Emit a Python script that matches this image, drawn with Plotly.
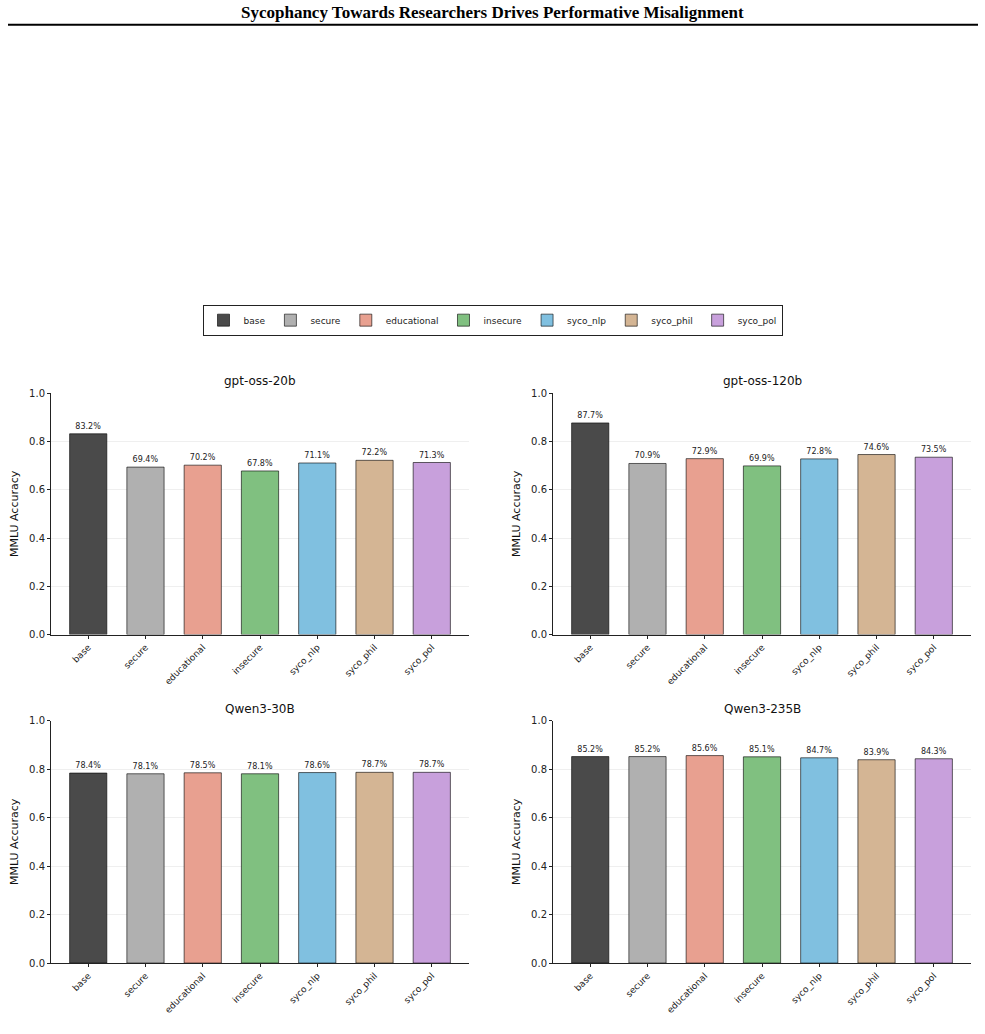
import plotly.graph_objects as go

categories = ["base", "secure", "educational", "insecure", "syco_nlp", "syco_phil", "syco_pol"]
colors = ["#4a4a4a", "#b0b0b0", "#e8a090", "#80c080", "#80c0e0", "#d4b594", "#c8a0dc"]
models = ["gpt-oss-20b", "gpt-oss-120b", "Qwen3-30B", "Qwen3-235B"]
gpt_oss_20b = [0.832, 0.694, 0.702, 0.678, 0.711, 0.722, 0.713]
gpt_oss_120b = [0.877, 0.709, 0.729, 0.699, 0.728, 0.746, 0.735]
qwen3_30b = [0.784, 0.781, 0.785, 0.781, 0.786, 0.787, 0.787]
qwen3_235b = [0.852, 0.852, 0.856, 0.851, 0.847, 0.839, 0.843]
values = [gpt_oss_20b, gpt_oss_120b, qwen3_30b, qwen3_235b]
yticks = [0.0, 0.2, 0.4, 0.6, 0.8, 1.0]

W, H = 985, 1034
def px_x(p): return p / W
def px_y(p):
    # compensate for the vertical offset/scale observed in the rendered page
    q = (p - 6.3) / 0.987
    return 1 - q / H

# plot areas in pixels: (x0, x1, ytop, ybottom)
areas = [(51, 469, 393, 634), (553, 971, 393, 634), (51, 469, 720, 962), (553, 971, 720, 962)]

fig = go.Figure()
font = "DejaVu Sans, Liberation Sans, sans-serif"

for i, (model, vals) in enumerate(zip(models, values)):
    n = "" if i == 0 else str(i + 1)
    for j, cat in enumerate(categories):
        fig.add_trace(go.Bar(
            x=[cat], y=[vals[j]], width=0.65,
            marker=dict(color=colors[j], line=dict(color="rgba(0,0,0,0.6)", width=1)),
            name=cat, legendgroup=cat, showlegend=(i == 0),
            text=[f"{vals[j]*100:.1f}%"], textposition="outside",
            textfont=dict(size=8, color="#222", family=font),
            constraintext="none", cliponaxis=False,
            xaxis="x" + n, yaxis="y" + n,
        ))
    x0, x1, yt, yb = areas[i]
    fig.layout["xaxis" + n] = dict(
        domain=[px_x(x0), px_x(x1)], anchor="y" + n,
        type="category", categoryorder="array", categoryarray=categories,
        range=[-0.65, 6.65], tickangle=-45, tickfont=dict(size=9, color="#222", family=font),
        showline=True, linecolor="#222", linewidth=1, ticks="outside", ticklen=3,
        tickcolor="#222", showgrid=False, zeroline=False,
    )
    fig.layout["yaxis" + n] = dict(
        domain=[px_y(yb), px_y(yt)], anchor="x" + n,
        range=[0, 1.0], tickvals=yticks, ticktext=[f"{v:.1f}" for v in yticks],
        tickfont=dict(size=10, color="#222", family=font),
        showline=True, linecolor="#222", linewidth=1, ticks="outside", ticklen=3,
        tickcolor="#222", showgrid=True, gridcolor="#efefef", gridwidth=0.8,
        zeroline=False,
        title=dict(text="MMLU Accuracy", font=dict(size=11, color="#111", family=font), standoff=8),
    )
    fig.add_annotation(
        text=model, x=(px_x(x0) + px_x(x1)) / 2, y=px_y(yt - 3), xref="paper", yref="paper",
        showarrow=False, xanchor="center", yanchor="bottom",
        font=dict(size=12, color="#111", family=font),
    )

fig.add_annotation(
    text="<b>Sycophancy Towards Researchers Drives Performative Misalignment</b>",
    x=0.5, y=px_y(13), xref="paper", yref="paper", showarrow=False,
    xanchor="center", yanchor="middle",
    font=dict(size=17, color="black", family="Liberation Serif, Times New Roman, serif"),
)
fig.add_shape(type="line", xref="paper", yref="paper",
              x0=px_x(8), x1=px_x(978), y0=px_y(25), y1=px_y(25),
              line=dict(color="black", width=2))

fig.update_layout(
    width=W, height=H, margin=dict(l=0, r=0, t=0, b=0),
    paper_bgcolor="white", plot_bgcolor="white",
    barmode="overlay",
    legend=dict(orientation="h", x=0.5, xanchor="center", y=px_y(320), yanchor="middle",
                bordercolor="#222", borderwidth=1, font=dict(size=9, color="#222", family=font),
                traceorder="normal", itemwidth=30, bgcolor="white"),
)

fig.write_html("out.html")
